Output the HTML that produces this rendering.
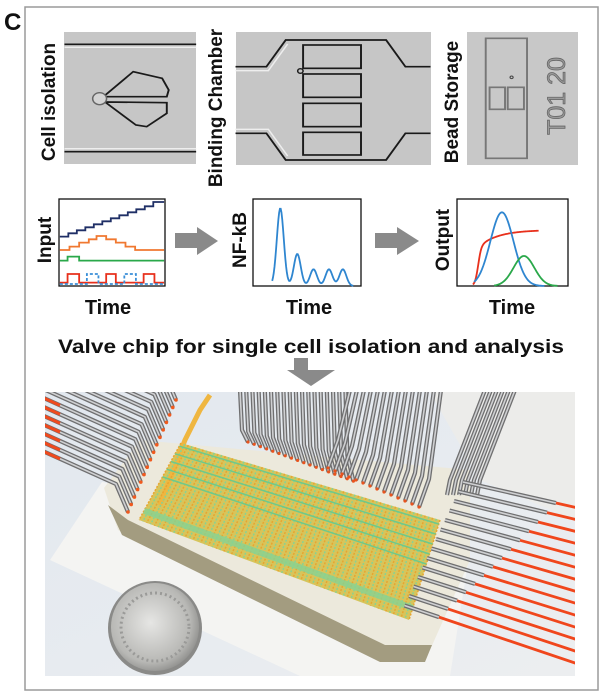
<!DOCTYPE html>
<html><head><meta charset="utf-8">
<style>
html,body{margin:0;padding:0;background:#fff;}
svg{display:block;}
text{font-family:"Liberation Sans",Arial,sans-serif;font-weight:bold;fill:#111;}
</style></head>
<body>
<svg id="s" width="602" height="695" viewBox="0 0 602 695" xmlns="http://www.w3.org/2000/svg">
<rect x="25" y="7" width="573" height="683" fill="#fff" stroke="#9a9a9a" stroke-width="1.5"/>
<text x="4" y="30" font-size="24">C</text>

<rect x="64" y="32" width="132" height="132" fill="#c6c6c6"/>
<rect x="236" y="32" width="195" height="133" fill="#c6c6c6"/>
<rect x="467" y="32" width="111" height="133" fill="#c8c8c8"/>

<g transform="scale(0.3861,0.3333)" fill="none" stroke="#1a1a1a">
 <line x1="167" y1="133" x2="508" y2="133" stroke-width="5"/>
 <line x1="167" y1="142" x2="508" y2="142" stroke="#eee" stroke-width="4"/>
 <line x1="167" y1="455" x2="508" y2="455" stroke-width="5"/>
 <line x1="167" y1="446" x2="508" y2="446" stroke="#eee" stroke-width="4"/>
 <path d="M268,290 L345,215 L420,235 L437,270 L432,290 Z" stroke-width="5"/>
 <path d="M272,306 L432,308 L432,340 L380,380 L352,375 Z" stroke-width="5"/>
 <circle cx="258" cy="296" r="18" fill="#d4d4d4" stroke="#666" stroke-width="4"/>
 <path d="M610,200 L690,200 L740,120 L1000,120 L1050,200 L1115,200" stroke-width="5"/>
 <path d="M610,212 L695,212 L745,132" stroke="#eee" stroke-width="4"/>
 <path d="M610,400 L690,400 L740,480 L1000,480 L1050,400 L1115,400" stroke-width="5"/>
 <path d="M610,388 L695,388 L745,468" stroke="#eee" stroke-width="4"/>
 <rect x="785" y="135" width="150" height="70" stroke-width="5"/>
 <rect x="785" y="222" width="150" height="70" stroke-width="5"/>
 <rect x="785" y="310" width="150" height="70" stroke-width="5"/>
 <rect x="785" y="397" width="150" height="68" stroke-width="5"/>
 <circle cx="778" cy="213" r="7" stroke-width="4"/>
 <rect x="1258" y="115" width="107" height="360" stroke="#777" stroke-width="5"/>
 <rect x="1268" y="262" width="40" height="66" stroke="#777" stroke-width="5"/>
 <rect x="1315" y="262" width="42" height="66" stroke="#777" stroke-width="5"/>
 <circle cx="1325" cy="232" r="4" stroke="#444" stroke-width="3"/>
</g>
<text transform="translate(565,96) rotate(-90)" font-size="25" text-anchor="middle" style="fill:#9a9a9a;font-weight:normal" stroke="#666" stroke-width="0.8">T01 20</text>

<text transform="translate(55,102) rotate(-90)" font-size="19" text-anchor="middle">Cell isolation</text>
<text transform="translate(222,108) rotate(-90)" font-size="19" text-anchor="middle">Binding Chamber</text>
<text transform="translate(458,102) rotate(-90)" font-size="19" text-anchor="middle">Bead Storage</text>
<text transform="translate(51,240) rotate(-90)" font-size="19" text-anchor="middle">Input</text>
<text transform="translate(246,240) rotate(-90)" font-size="19" text-anchor="middle">NF-kB</text>
<text transform="translate(449,240) rotate(-90)" font-size="19" text-anchor="middle">Output</text>

<rect x="59" y="199" width="106" height="87" fill="#fff" stroke="#111" stroke-width="1.3"/>
<rect x="253" y="199" width="108" height="87" fill="#fff" stroke="#111" stroke-width="1.3"/>
<rect x="457" y="199" width="111" height="87" fill="#fff" stroke="#111" stroke-width="1.3"/>

<g transform="scale(0.3861,0.3333)" fill="none">
 <path vector-effect="non-scaling-stroke" stroke="#1f2f66" stroke-width="1.8" d="M155,710 L177,710 L177,700 L199,700 L199,691 L221,691 L221,682 L243,682 L243,673 L265,673 L265,664 L287,664 L287,655 L309,655 L309,646 L331,646 L331,637 L353,637 L353,628 L375,628 L375,619 L397,619 L397,606 L425,606"/>
 <path vector-effect="non-scaling-stroke" stroke="#f07830" stroke-width="1.8" d="M155,750 L180,750 L180,740 L205,740 L205,728 L230,728 L230,718 L250,718 L250,708 L275,708 L275,718 L300,718 L300,728 L325,728 L325,740 L350,740 L350,750 L425,750"/>
 <path vector-effect="non-scaling-stroke" stroke="#2aa84a" stroke-width="1.8" d="M155,782 L175,782 L175,770 L205,770 L205,782 L425,782"/>
 <path vector-effect="non-scaling-stroke" stroke="#e8301c" stroke-width="1.8" d="M155,848 L175,848 L175,822 L205,822 L205,848 L275,848 L275,822 L300,822 L300,848 L372,848 L372,822 L400,822 L400,848 L425,848"/>
 <path vector-effect="non-scaling-stroke" stroke="#3a8fd8" stroke-width="1.8" stroke-dasharray="3,2" d="M155,852 L225,852 L225,822 L255,822 L255,852 L322,852 L322,822 L352,822 L352,852 L425,852"/>
 <path id="nfkb" vector-effect="non-scaling-stroke" stroke="#2f86d0" stroke-width="1.8"/>
 <path id="o1" vector-effect="non-scaling-stroke" stroke="#e8301c" stroke-width="1.8"/>
 <path id="o2" vector-effect="non-scaling-stroke" stroke="#2f86d0" stroke-width="1.8"/>
 <path id="o3" vector-effect="non-scaling-stroke" stroke="#2aa84a" stroke-width="1.8"/>
</g>

<path d="M175,233 L197,233 L197,227 L218,241 L197,255 L197,248 L175,248 Z" fill="#8a8a8a"/>
<path d="M375,233 L397,233 L397,227 L419,241 L397,255 L397,248 L375,248 Z" fill="#8a8a8a"/>
<path d="M294,358 L308,358 L308,370 L335,370 L311,386 L287,370 L294,370 Z" fill="#8a8a8a"/>

<text x="108" y="314" font-size="20" text-anchor="middle">Time</text>
<text x="309" y="314" font-size="20" text-anchor="middle">Time</text>
<text x="512" y="314" font-size="20" text-anchor="middle">Time</text>
<text x="311" y="353" font-size="19" text-anchor="middle" textLength="506" lengthAdjust="spacingAndGlyphs">Valve chip for single cell isolation and analysis</text>

<defs>
 <clipPath id="pc"><rect x="45" y="392" width="530" height="284"/></clipPath>
 <radialGradient id="coin" cx="0.45" cy="0.45" r="0.6"><stop offset="0" stop-color="#e6e6e4"/><stop offset="0.75" stop-color="#b8b8b5"/><stop offset="1" stop-color="#8a8a88"/></radialGradient>
 <linearGradient id="bg" x1="0" y1="0" x2="1" y2="1"><stop offset="0" stop-color="#e2e8ef"/><stop offset="1" stop-color="#eceef0"/></linearGradient>
</defs>
<g clip-path="url(#pc)" id="photo">
 <rect x="45" y="392" width="530" height="284" fill="url(#bg)"/>
 <polygon points="430,392 575,392 575,520 480,480" fill="#ececea"/>
 <polygon points="50,560 102,482 470,550 450,676 300,676" fill="#f4f4f2"/>
 <polygon points="104,488 140,440 470,470 470,560 430,650 380,655 118,530" fill="#ece9dc"/>
 <polygon points="108,505 122,535 380,662 425,662 432,645 385,645 128,520" fill="#a39c80"/>
 <polygon points="181,443 440,520 409,620 139,520" fill="#d8c45a"/>
 <path d="M160,505 L185,440 L200,410 L210,395" stroke="#efb640" stroke-width="5" fill="none"/>
 <g id="grid"></g>
 <g id="tubes"></g>
 <circle cx="155" cy="628" r="47" fill="#8a8a88"/>
 <circle cx="155" cy="627" r="44" fill="url(#coin)"/>
 <circle cx="155" cy="627" r="34" fill="none" stroke="#9a9a98" stroke-width="3" stroke-dasharray="2,3"/>
</g>
</svg>
<script>
function g(x,s,w){return Math.exp(-((x-s)*(x-s))/(2*w*w));}
var d="";for(var x=705;x<=915;x+=2){var y=858-233*g(x,726,9)-96*g(x,770,9)-50*g(x,812,9)-50*g(x,852,9)-50*g(x,888,9);d+=(d?"L":"M")+x+","+y.toFixed(1);}
document.getElementById("nfkb").setAttribute("d",d);
d="";for(x=1225;x<=1395;x+=2){var y=858-(118/(1+Math.exp(-(x-1238)/4)))-50*(1-Math.exp(-Math.max(0,x-1240)/50));d+=(d?"L":"M")+x+","+y.toFixed(1);}
document.getElementById("o1").setAttribute("d",d);
d="";for(x=1228;x<=1410;x+=2){var y=858-221*g(x,1300,30);d+=(d?"L":"M")+x+","+y.toFixed(1);}
document.getElementById("o2").setAttribute("d",d);
d="";for(x=1280;x<=1445;x+=2){var y=858-90*g(x,1357,27);d+=(d?"L":"M")+x+","+y.toFixed(1);}
document.getElementById("o3").setAttribute("d",d);
function L(p,q,t){return [p[0]+(q[0]-p[0])*t,p[1]+(q[1]-p[1])*t];}
var TL=[181,443],TR=[440,520],BR=[409,620],BL=[139,520];
var G=document.getElementById("grid"),h="";
for(var i=0;i<=70;i++){var t=i/70,a=L(TL,TR,t),b=L(BL,BR,t);
 h+='<line x1="'+a[0]+'" y1="'+a[1]+'" x2="'+b[0]+'" y2="'+b[1]+'" stroke="'+(i%2?"#86d394":"#e8a530")+'" stroke-width="1.5" stroke-dasharray="2,1.5"/>';}
for(i=0;i<5;i++){var t=0.04+i*0.1,a=L(TL,BL,t),b=L(TR,BR,t);h+='<line x1="'+a[0]+'" y1="'+a[1]+'" x2="'+b[0]+'" y2="'+b[1]+'" stroke="#6fc98a" stroke-width="1.5"/>';}
var a=L(TL,BL,0.88),b=L(TR,BR,0.88);h+='<line x1="'+a[0]+'" y1="'+a[1]+'" x2="'+b[0]+'" y2="'+b[1]+'" stroke="#86d394" stroke-width="6" opacity="0.8"/>';
G.innerHTML=h;
var T=document.getElementById("tubes");h="";
function tube(pts){var s=pts.map(function(p){return p.join(",")}).join(" ");
 h+='<polyline points="'+s+'" fill="none" stroke="#6f6f70" stroke-width="4.2" stroke-linejoin="round"/>';
 h+='<polyline points="'+s+'" fill="none" stroke="#cfd0d2" stroke-width="1.6" stroke-linejoin="round"/>';}
// left group
for(i=0;i<16;i++){var e=L([176,400],[128,512],i/15);var el=[e[0]-12,e[1]-28];
 var st=[el[0]-200,el[1]-90];
 tube([st,el,e]);
 h+='<circle cx="'+e[0]+'" cy="'+e[1]+'" r="1.8" fill="#f05a1e"/>';
 var yl=el[1]-(el[0]-45)*0.45; if(yl>392){h+='<line x1="40" y1="'+(yl-2.2)+'" x2="60" y2="'+(yl+6.8)+'" stroke="#f04a1e" stroke-width="3"/>';}}
// top group
for(i=0;i<18;i++){var x0=240+i*6.2,y0=390;var x1=x0+2,y1=430+i*1.5;
 tube([[x0,y0],[x1,y1],[x1+6,y1+12+i*0.8]]);
 h+='<circle cx="'+(x1+6)+'" cy="'+(y1+12+i*0.8)+'" r="1.6" fill="#e8541e"/>';}
for(i=0;i<14;i++){var x0=350+i*7,y0=390;var x1=x0-22,y1=460+i*3;
 tube([[x0,y0],[x1+10,y1-20],[x1,y1+8]]);
 h+='<circle cx="'+x1+'" cy="'+(y1+8)+'" r="1.6" fill="#e8541e"/>';}
for(i=0;i<6;i++){var x0=485+i*6,y0=390;tube([[x0,y0],[x0-35,y0+90],[x0-38,y0+105]]);}
// right group
for(i=0;i<14;i++){var lx=463-i*4.5,ly=482+i*9.5,rx=578,ry=508+i*12;var mx=556-i*9,my=ly+(ry-ly)*(mx-lx)/(rx-lx);
 tube([[lx,ly],[mx,my]]);
 h+='<line x1="'+mx+'" y1="'+my+'" x2="'+rx+'" y2="'+ry+'" stroke="#f0461c" stroke-width="2.8"/>';}
T.innerHTML=h;
</script>
</body></html>
